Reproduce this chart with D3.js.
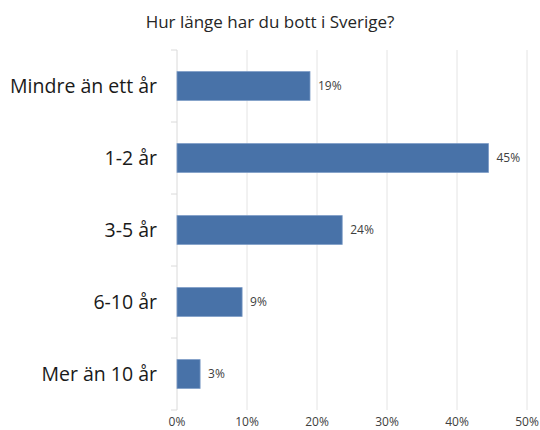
<!DOCTYPE html>
<html><head><meta charset="utf-8">
<script src="https://cdn.jsdelivr.net/npm/d3@7"></script>
<style>body{margin:0;background:#fff;}svg{display:block;}</style>
</head><body>
<svg id="c" width="540" height="430"></svg>
<script>
const categories = ["Mindre än ett år","1-2 år","3-5 år","6-10 år","Mer än 10 år"];
const values = [0.19, 0.445, 0.236, 0.093, 0.033];
const valueLabels = ["19%","45%","24%","9%","3%"];
const xTicks = [0,0.1,0.2,0.3,0.4,0.5];
const title = "Hur länge har du bott i Sverige?";

const svg = d3.select("#c");
const font = "'Open Sans', sans-serif";
const x = d3.scaleLinear().domain([0,0.5]).range([177,527]);
const y = d3.scaleBand().domain(categories).range([50,410]).paddingInner(0.6).paddingOuter(0.3);
const yb = d3.scaleBand().domain(categories).range([50,410]);

svg.append("text").attr("x",270).attr("y",28).attr("text-anchor","middle")
  .attr("font-family",font).attr("font-size",17).attr("fill","#262626").text(title);

// gridlines
svg.append("g").selectAll("line").data(xTicks.slice(1)).join("line")
  .attr("x1",d=>x(d)).attr("x2",d=>x(d)).attr("y1",50).attr("y2",410)
  .attr("stroke","#e4e4e4").attr("stroke-width",1);

// y axis
const yAxis = svg.append("g").attr("transform","translate(177,0)");
yAxis.append("line").attr("x1",0).attr("x2",0).attr("y1",50).attr("y2",410).attr("stroke","#dadada");
yAxis.selectAll("line.t").data(d3.range(6)).join("line").attr("class","t")
  .attr("x1",-6).attr("x2",0).attr("y1",i=>50+i*yb.bandwidth()).attr("y2",i=>50+i*yb.bandwidth())
  .attr("stroke","#dadada");

// bars
svg.append("g").selectAll("rect").data(values).join("rect")
  .attr("x",x(0)).attr("y",(d,i)=>y(categories[i]))
  .attr("width",d=>x(d)-x(0)).attr("height",y.bandwidth())
  .attr("fill","#4872a8").attr("stroke","#7c9bc6").attr("stroke-width",0.8);

// category labels
svg.append("g").selectAll("text").data(categories).join("text")
  .attr("x",157).attr("y",d=>yb(d)+yb.bandwidth()/2).attr("dy","0.35em")
  .attr("text-anchor","end").attr("font-family",font).attr("font-size",19.5).attr("fill","#1a1a1a")
  .text(d=>d);

// value labels
svg.append("g").selectAll("text").data(values).join("text")
  .attr("x",d=>x(d)+8).attr("y",(d,i)=>yb(categories[i])+yb.bandwidth()/2).attr("dy","0.35em")
  .attr("font-family",font).attr("font-size",12).attr("fill","#404040")
  .text((d,i)=>valueLabels[i]);

// x tick labels
svg.append("g").selectAll("text").data(xTicks).join("text")
  .attr("x",d=>x(d)).attr("y",426).attr("text-anchor","middle")
  .attr("font-family",font).attr("font-size",12).attr("fill","#404040")
  .text(d=>d3.format(".0%")(d));
</script>
</body></html>
